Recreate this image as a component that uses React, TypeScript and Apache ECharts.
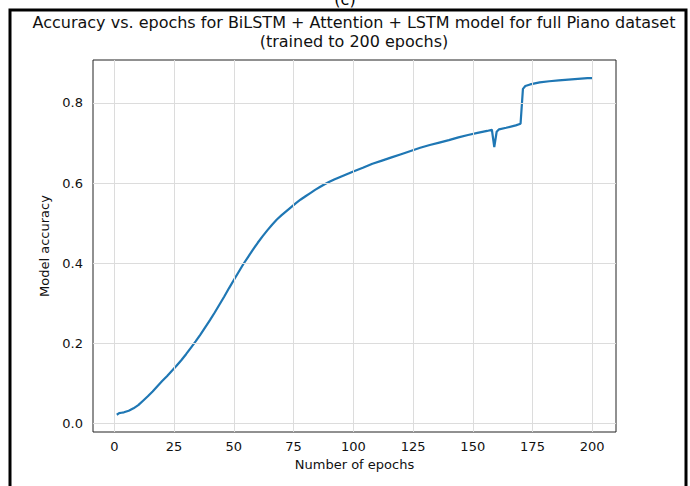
import React, { useEffect, useRef } from "react";
import * as echarts from "echarts";

const epochs = [1,2,3,4,5,6,8,10,12,14,16,18,20,22,24,26,28,30,32,34,36,38,40,42,44,46,48,50,52,54,56,58,60,62,64,66,68,70,72,74,76,78,80,82,84,86,88,90,92,94,96,98,100,104,108,112,116,120,124,128,132,136,140,144,148,152,156,158,159,160,161,164,168,170,171,172,174,178,182,186,190,194,198,200];
const accuracy = [0.022,0.026,0.027,0.028,0.030,0.032,0.038,0.046,0.057,0.068,0.080,0.093,0.106,0.118,0.131,0.144,0.158,0.173,0.189,0.205,0.222,0.240,0.258,0.277,0.297,0.317,0.338,0.358,0.378,0.398,0.416,0.434,0.451,0.467,0.482,0.496,0.509,0.520,0.530,0.540,0.550,0.559,0.567,0.575,0.583,0.590,0.597,0.603,0.609,0.614,0.619,0.624,0.629,0.638,0.648,0.656,0.664,0.672,0.680,0.688,0.695,0.701,0.707,0.714,0.720,0.725,0.730,0.733,0.690,0.728,0.734,0.738,0.744,0.748,0.835,0.842,0.846,0.851,0.854,0.856,0.858,0.860,0.862,0.862];
const xTicks = [0,25,50,75,100,125,150,175,200];
const yTicks = [0,0.2,0.4,0.6,0.8];
const titleText = "Accuracy vs. epochs for BiLSTM + Attention + LSTM model for full Piano dataset\n(trained to 200 epochs)";

const FONT = "DejaVu Sans";

export default function App() {
  const ref = useRef<HTMLDivElement>(null);
  useEffect(() => {
    if (!ref.current) return;
    const chart = echarts.init(ref.current, null, { renderer: "svg" });
    const gridLines = [
      ...xTicks.map((v) => ({ xAxis: v })),
      ...yTicks.map((v) => ({ yAxis: v })),
    ];
    chart.setOption({
      animation: false,
      backgroundColor: "#ffffff",
      textStyle: { fontFamily: FONT },
      title: {
        text: titleText,
        left: 354,
        top: 13,
        padding: 0,
        textAlign: "center",
        textStyle: { fontFamily: FONT, fontSize: 16, fontWeight: "normal", color: "#111", lineHeight: 19 },
      },
      graphic: [
        { type: "rect", shape: { x: 10, y: 10, width: 676, height: 500 }, style: { fill: "none", stroke: "#000", lineWidth: 3 }, silent: true },
        { type: "text", x: 345, y: -9, style: { text: "(c)", fontSize: 16, fontFamily: FONT, fill: "#000", align: "center" }, silent: true },
      ],
      grid: { left: 93, right: 74, top: 60, bottom: 54, show: true, borderColor: "#222", borderWidth: 1, backgroundColor: "transparent" },
      xAxis: {
        type: "value",
        min: -8.95,
        max: 209.95,
        name: "Number of epochs",
        nameLocation: "middle",
        nameGap: 26,
        nameTextStyle: { fontFamily: FONT, fontSize: 13, color: "#111" },
        axisLine: { show: false },
        axisTick: { show: true, customValues: xTicks, length: 4, lineStyle: { color: "#222" } },
        axisLabel: { customValues: xTicks, fontFamily: FONT, fontSize: 13, color: "#111", margin: 8 },
        splitLine: { show: false },
      },
      yAxis: {
        type: "value",
        min: -0.0211,
        max: 0.907,
        name: "Model accuracy",
        nameLocation: "middle",
        nameGap: 39,
        nameTextStyle: { fontFamily: FONT, fontSize: 13, color: "#111" },
        axisLine: { show: false },
        axisTick: { show: true, customValues: yTicks, length: 4, lineStyle: { color: "#222" } },
        axisLabel: { customValues: yTicks, fontFamily: FONT, fontSize: 13, color: "#111", margin: 10, formatter: (v: number) => v.toFixed(1) },
        splitLine: { show: false },
      },
      series: [
        {
          type: "line",
          data: [],
          z: 1,
          silent: true,
          markLine: {
            silent: true,
            symbol: "none",
            label: { show: false },
            lineStyle: { color: "#dcdcdc", width: 1, type: "solid" },
            data: gridLines,
          },
        },
        {
          type: "line",
          z: 3,
          data: epochs.map((e, i) => [e, accuracy[i]]),
          showSymbol: false,
          lineStyle: { color: "#1f77b4", width: 2.2 },
          itemStyle: { color: "#1f77b4" },
        },
      ],
    });
    return () => chart.dispose();
  }, []);
  return <div ref={ref} style={{ width: 690, height: 486, position: "absolute", left: 0, top: 0 }} />;
}
